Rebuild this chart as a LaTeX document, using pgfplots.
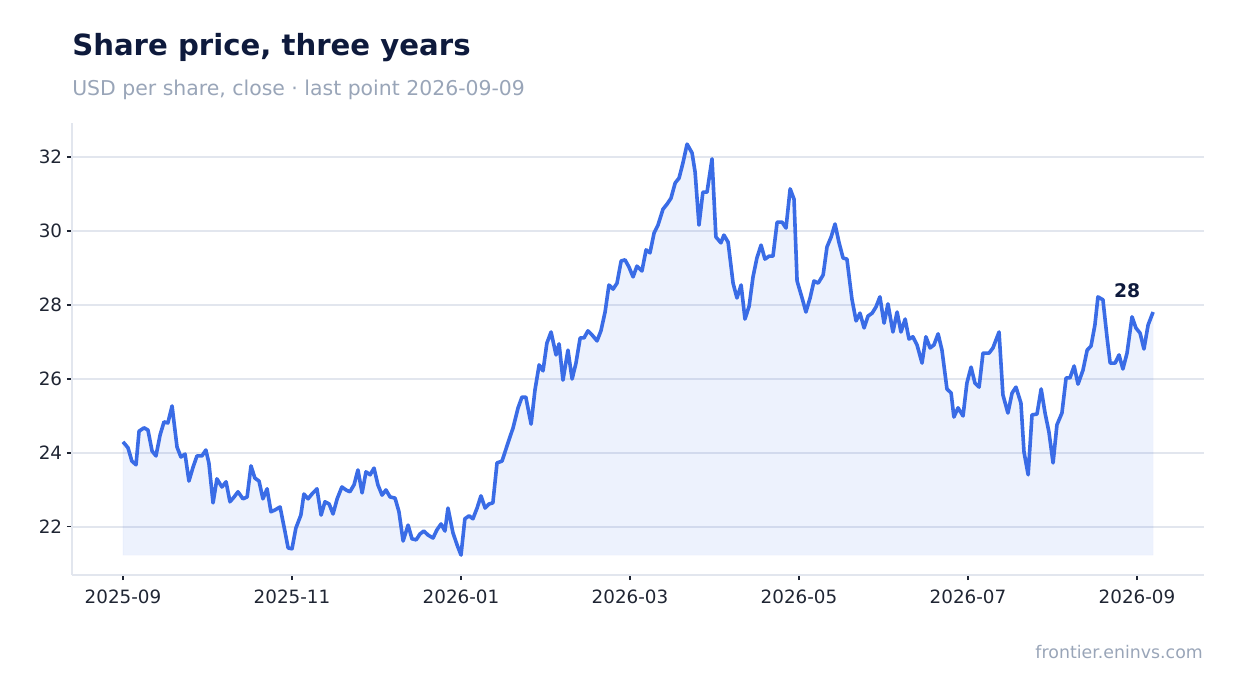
\documentclass[border=0pt]{standalone}
\usepackage{fontspec}
\setmainfont{DejaVu Sans}
\usepackage{pgfplots}
\usepackage{pgfplotstable}
\pgfplotsset{compat=1.18}

\definecolor{linec}{HTML}{3A6CE6}
\definecolor{titlec}{HTML}{0E1A3C}
\definecolor{subc}{HTML}{99A5B8}
\definecolor{gridc}{HTML}{E2E6EE}
\definecolor{tickc}{HTML}{1F2533}

% day = days since 2025-09-01, close in USD
\pgfplotstableread{
day price
0.0 24.30
1.8 24.14
3.2 23.78
4.7 23.68
5.8 24.59
7.6 24.68
9.0 24.62
10.5 24.05
11.9 23.92
13.4 24.49
14.8 24.84
16.2 24.81
17.7 25.27
19.5 24.16
20.9 23.89
22.4 23.97
23.8 23.24
25.3 23.62
26.7 23.92
28.5 23.92
29.9 24.08
31.0 23.73
32.5 22.65
33.9 23.30
35.7 23.08
37.2 23.22
38.6 22.68
40.1 22.81
41.5 22.95
43.3 22.76
44.8 22.81
46.2 23.65
47.6 23.32
49.1 23.24
50.5 22.76
52.0 23.03
53.4 22.41
54.9 22.46
56.7 22.54
58.5 21.86
59.6 21.43
61.0 21.41
62.4 21.97
64.2 22.32
65.3 22.89
66.8 22.76
68.2 22.89
70.0 23.03
71.5 22.32
72.9 22.68
74.4 22.62
75.8 22.35
77.3 22.76
79.0 23.08
80.5 23.00
81.9 22.95
83.4 23.14
84.8 23.54
86.3 22.92
87.7 23.49
89.2 23.41
90.6 23.59
92.0 23.14
93.5 22.86
94.9 23.00
96.4 22.81
98.2 22.78
99.6 22.41
101.1 21.62
102.9 22.05
104.3 21.68
105.8 21.65
107.2 21.81
108.6 21.89
110.1 21.78
111.9 21.70
113.3 21.92
114.8 22.08
116.2 21.89
117.3 22.51
119.1 21.84
120.6 21.51
122.0 21.24
123.4 22.22
124.9 22.30
126.3 22.22
127.8 22.51
129.2 22.84
130.7 22.51
132.1 22.62
133.5 22.65
135.0 23.73
136.8 23.78
137.9 24.03
139.3 24.35
140.8 24.68
142.6 25.22
144.0 25.51
145.4 25.51
147.3 24.78
148.7 25.70
150.2 26.38
151.6 26.22
153.0 26.97
154.5 27.27
156.3 26.65
157.4 26.95
158.8 25.97
160.6 26.78
162.1 26.00
163.5 26.43
165.0 27.11
166.4 27.11
167.8 27.30
169.3 27.19
171.1 27.03
172.5 27.30
174.0 27.81
175.4 28.54
176.9 28.43
178.3 28.59
179.8 29.19
181.2 29.22
182.6 29.03
184.1 28.76
185.5 29.05
187.3 28.92
188.8 29.49
190.2 29.41
191.7 29.95
193.1 30.16
194.9 30.59
196.4 30.73
197.8 30.89
199.3 31.30
200.7 31.43
202.1 31.84
203.6 32.35
205.4 32.11
206.5 31.59
207.9 30.16
209.3 31.05
210.8 31.05
212.6 31.95
214.0 29.84
215.8 29.68
216.9 29.89
218.4 29.70
220.2 28.59
221.6 28.19
223.1 28.54
224.5 27.62
226.0 27.97
227.4 28.76
228.8 29.27
230.3 29.62
231.7 29.24
233.2 29.32
234.6 29.32
236.1 30.24
237.9 30.24
239.3 30.08
240.8 31.14
242.2 30.86
243.3 28.65
245.1 28.19
246.5 27.81
248.0 28.19
249.4 28.65
250.9 28.59
252.7 28.81
254.1 29.57
255.6 29.84
257.0 30.19
258.4 29.70
259.9 29.27
261.3 29.24
263.1 28.16
264.6 27.57
266.0 27.78
267.5 27.38
268.9 27.70
270.4 27.78
271.8 27.95
273.2 28.22
274.7 27.51
276.1 28.03
277.9 27.27
279.4 27.81
280.8 27.27
282.3 27.62
283.7 27.08
285.1 27.14
286.6 26.92
288.4 26.43
289.8 27.14
291.3 26.84
292.7 26.92
294.2 27.22
295.6 26.78
297.4 25.73
298.9 25.62
299.9 24.97
301.4 25.22
303.2 25.00
304.6 25.89
306.1 26.32
307.5 25.89
309.0 25.78
310.4 26.70
312.6 26.70
314.0 26.84
316.2 27.27
317.6 25.57
319.4 25.08
320.9 25.62
322.3 25.78
324.1 25.35
325.2 24.03
326.7 23.41
328.1 25.03
329.9 25.05
331.4 25.73
332.8 25.08
334.2 24.57
335.7 23.73
337.1 24.76
338.9 25.08
340.4 26.03
341.8 26.03
343.3 26.35
344.7 25.86
346.5 26.24
348.0 26.78
349.4 26.89
350.8 27.46
351.9 28.22
353.7 28.14
355.2 27.11
356.3 26.43
358.1 26.43
359.5 26.65
360.9 26.27
362.4 26.70
364.2 27.68
365.6 27.38
367.1 27.24
368.5 26.81
370.0 27.46
371.8 27.81
}\price

\begin{document}
\begin{tikzpicture}
  \path (0,0) rectangle (888.48pt,-498.96pt);

  \node[anchor=base west, inner sep=0pt, text=titlec,
        font=\fontsize{21}{25}\selectfont\bfseries]
    at (51.84pt,-39.6pt) {Share price, three years};
  \node[anchor=base west, inner sep=0pt, text=subc,
        font=\fontsize{14.7}{17}\selectfont]
    at (51.84pt,-69.1pt) {USD per share, close · last point 2026-09-09};
  \node[anchor=base east, inner sep=0pt, text=subc,
        font=\fontsize{12.5}{15}\selectfont]
    at (866.2pt,-473.8pt) {frontier.eninvs.com};

  \begin{axis}[
      at={(51.84pt,-414pt)}, anchor=south west,
      scale only axis,
      width=815.04pt, height=325.44pt,
      xmin=-18.41, xmax=390.18,
      ymin=20.70, ymax=32.92,
      axis x line*=bottom, axis y line*=left,
      axis line style={draw=gridc, line width=1pt, -},
      xtick={0,61,122,183,244,305,366},
      xticklabels={2025-09,2025-11,2026-01,2026-03,2026-05,2026-07,2026-09},
      ytick={22,24,26,28,30,32},
      ymajorgrids,
      major grid style={draw=gridc, line width=1pt},
      tick align=outside,
      major tick length=3.6pt,
      major tick style={draw=tickc, line width=0.8pt},
      ticklabel style={font=\fontsize{13.2}{15}\selectfont, text=tickc},
      xticklabel style={yshift=-3.5pt},
      /pgf/number format/assume math mode=true,
    ]
    \addplot[fill=linec, fill opacity=0.09, draw=linec, draw opacity=0.06, forget plot]
      table[x=day, y=price] {\price}
      -- (axis cs:371.8,21.24) -- (axis cs:0,21.24) -- cycle;
    \addplot[linec, line width=2.6pt, line join=round]
      table[x=day, y=price] {\price};
    \node[anchor=base, text=titlec, font=\fontsize{13.5}{16}\selectfont\bfseries]
      at (axis cs:362.4,28.19) {28};
  \end{axis}
\end{tikzpicture}
\end{document}
